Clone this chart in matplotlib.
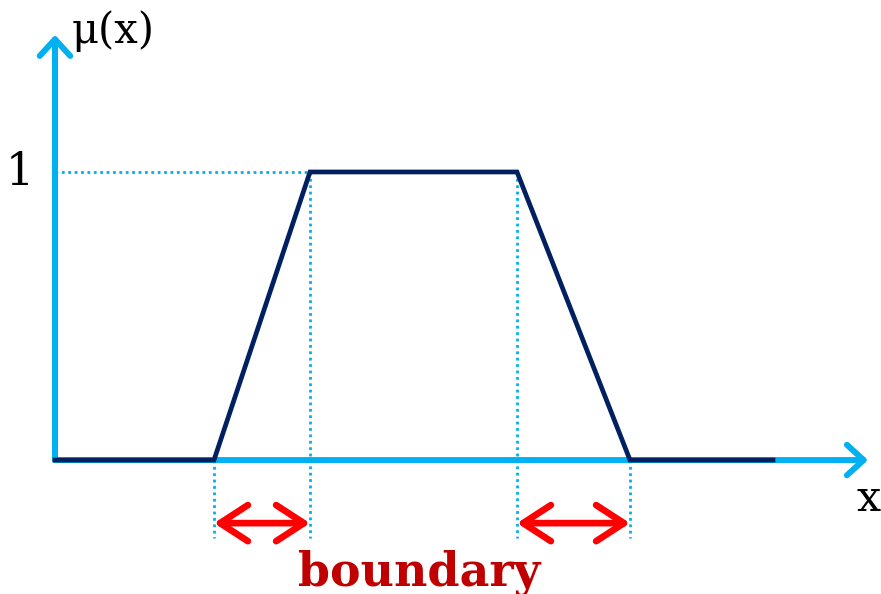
import matplotlib.pyplot as plt

# trapezoidal membership function
mf_x = [0, 1.59, 2.55, 4.62, 5.75, 7.18]
mf_y = [0, 0, 1, 1, 0, 0]
core = [2.55, 4.62]
support = [1.59, 5.75]
x_end = 8.13
y_end = 1.476

blue = '#00B0F0'
navy = '#002060'
red = '#FF0000'
darkred = '#C00000'

fig = plt.figure(figsize=(8.81, 5.94), dpi=100)
ax = fig.add_axes([0, 0, 1, 1])
ax.set_xlim(-0.55, 8.26)
ax.set_ylim(-0.465, 1.597)
ax.axis('off')

# axes with arrow heads
ap = dict(arrowstyle='->,head_length=0.6,head_width=0.55', color=blue, lw=4.3,
          shrinkA=0, shrinkB=0, capstyle='round', joinstyle='round', mutation_scale=20)
ax.annotate('', xy=(x_end, 0), xytext=(0, 0), arrowprops=ap)
ax.annotate('', xy=(0, y_end), xytext=(0, 0), arrowprops=ap)

# dotted guide lines
dot = dict(color=blue, lw=2.0, linestyle=(0, (1, 1.3)))
ax.plot([0, core[0]], [1, 1], **dot)
ax.plot([support[0], support[0]], [0, -0.27], **dot)
ax.plot([support[1], support[1]], [0, -0.27], **dot)
ax.plot([core[0], core[0]], [1, -0.27], **dot)
ax.plot([core[1], core[1]], [1, -0.27], **dot)

ax.plot(mf_x, mf_y, color=navy, lw=3.4, solid_joinstyle='miter', zorder=5)

# boundary arrows
rp = dict(arrowstyle='<->,head_length=1.0,head_width=0.65', color=red, lw=4.8,
          shrinkA=0, shrinkB=0, capstyle='round', joinstyle='round', mutation_scale=20)
ax.annotate('', xy=(core[0], -0.219), xytext=(support[0], -0.219), arrowprops=rp)
ax.annotate('', xy=(support[1], -0.219), xytext=(core[1], -0.219), arrowprops=rp)

ax.text(0.17, 1.49, 'μ(x)', family='DejaVu Serif', fontsize=30, ha='left', va='center')
ax.text(-0.21, 1, '1', family='DejaVu Serif', fontsize=32, ha='right', va='center')
ax.text(8.14, -0.135, 'x', family='DejaVu Serif', fontsize=31, ha='center', va='center')
ax.text(3.64, -0.39, 'boundary', family='DejaVu Serif', fontsize=33, fontweight='bold',
        color=darkred, ha='center', va='center')

fig.savefig('out.png', dpi=100)
